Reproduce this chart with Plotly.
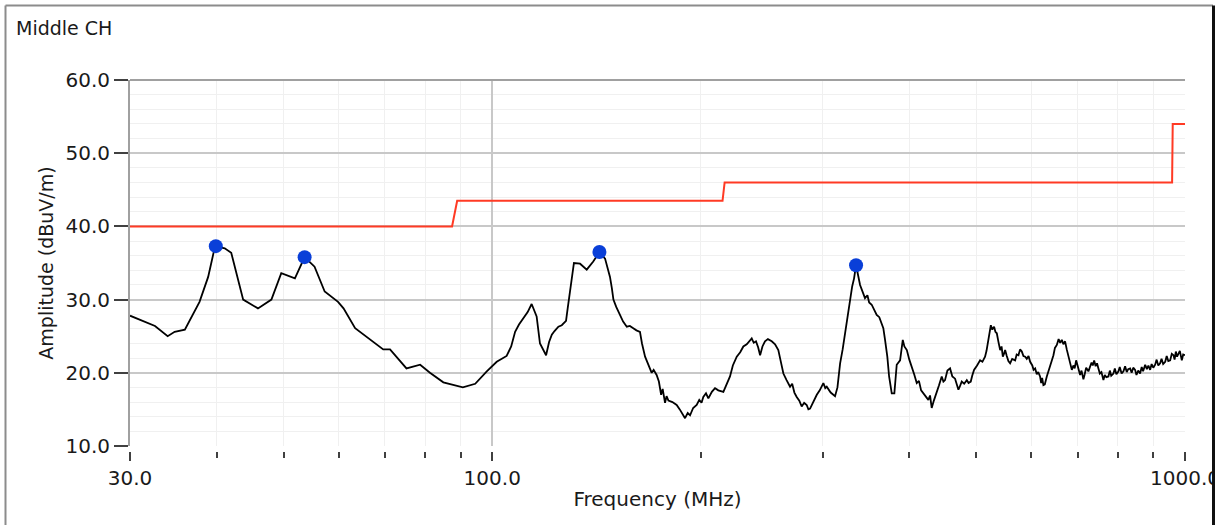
import plotly.graph_objects as go
import math

# ---- data ----
# measured trace, split into frequency segments (MHz, dBuV/m)
freq_a = [30.0, 32.6, 34.0, 34.8, 36.0, 37.8, 38.9, 39.8, 41.1, 42.0, 43.7, 45.9, 48.0, 49.6,
          51.9, 53.6, 55.4, 57.3, 59.9, 61.0, 63.4, 66.2, 69.6, 71.2, 75.2, 78.7, 81.3, 85.0,
          90.7, 94.5, 98.2]
amp_a = [27.8, 26.4, 25.0, 25.6, 25.9, 29.7, 33.1, 37.3, 37.0, 36.4, 30.0, 28.8, 30.0, 33.6,
         32.9, 35.8, 34.5, 31.1, 29.7, 28.8, 26.1, 24.8, 23.2, 23.2, 20.6, 21.1, 20.0, 18.7,
         18.0, 18.5, 20.2]

freq_b = [101.5, 103.0, 104.9, 106.5, 107.9, 109.3, 110.9, 112.5, 114.0, 115.9, 117.2, 118.3,
          119.6, 120.8, 121.9, 123.0, 124.6, 126.0, 127.8, 128.5, 129.5, 130.5, 131.2, 133.9,
          136.9, 139.9, 142.8, 145.5, 147.9, 148.8, 149.6, 151.0, 152.9, 154.5, 156.4, 158.0,
          159.8, 161.5]
amp_b = [21.5, 21.9, 22.3, 23.6, 25.6, 26.6, 27.4, 28.3, 29.4, 27.7, 24.0, 23.2,
         22.4, 24.2, 25.2, 25.7, 26.3, 26.5, 27.1, 28.8, 31.3, 33.5, 35.0, 34.9,
         34.1, 35.2, 36.5, 35.6, 33.1, 31.6, 30.0, 29.0, 27.9, 27.0, 26.3, 26.4,
         26.1, 25.8]

freq_c = [163.4, 164.5, 166.2, 168.0, 169.9, 171.0, 172.7, 174.0, 175.3, 176.2, 177.6, 178.5,
          179.6, 182.0, 184.6, 186.5, 188.0, 189.8, 191.5, 193.0, 195.0, 197.3, 199.0, 200.5,
          201.7, 203.5, 205.1, 207.5, 209.7, 212.0, 215.6, 218.0, 220.4]
amp_c = [25.6, 24.0, 22.2, 21.0, 20.0, 20.4, 19.7, 18.8, 17.0, 17.8, 15.9, 16.8,
         16.2, 16.0, 15.6, 15.0, 14.4, 13.8, 14.5, 14.2, 15.2, 15.6, 16.3, 15.9,
         16.7, 17.2, 16.5, 17.4, 17.9, 17.6, 17.4, 18.5, 19.5]

freq_d = [222.5, 225.4, 228.0, 230.4, 233.0, 236.9, 238.5, 240.3, 242.0, 243.6, 245.5, 247.6,
          250.0, 253.2, 256.0, 258.8, 261.0, 263.2, 266.0, 269.1, 271.0, 273.0, 275.1, 277.5,
          279.7, 282.0, 284.4, 286.0, 287.6, 290.5, 294.1, 297.0, 300.6, 302.5, 304.0, 308.0,
          312.5, 315.0, 317.8, 320.5, 323.1, 325.8, 328.5, 330.8, 332.9, 335.1]
amp_d = [21.0, 22.2, 22.8, 23.6, 23.9, 24.7, 24.1, 24.3, 23.5, 22.4, 23.6, 24.3,
         24.6, 24.3, 23.9, 23.1, 21.5, 19.9, 19.0, 18.1, 18.5, 17.3, 16.7, 16.2,
         15.4, 15.9, 15.6, 15.0, 15.1, 16.0, 17.0, 17.6, 18.6, 17.9, 18.1, 17.3,
         16.8, 18.0, 21.3, 23.2, 25.4, 28.0, 30.4, 31.8, 32.9, 34.7]

freq_e = [339.6, 342.0, 345.2, 348.0, 350.0, 353.0, 356.0, 358.9, 362.0, 364.5, 366.9, 369.0,
          371.8, 374.0, 377.3, 380.6, 383.6, 387.9, 391.4, 393.5, 396.7, 400.0, 403.3, 406.5,
          410.0, 413.0, 416.0, 419.1, 422.5, 426.1, 428.5, 430.9, 434.0, 438.1, 441.5, 445.5,
          448.0, 450.4, 454.0, 458.0, 461.5, 465.7, 468.0, 470.9, 473.0, 476.1]
amp_e = [32.0, 31.2, 30.2, 30.6, 29.6, 29.3, 28.6, 27.9, 27.6, 26.8, 26.1, 24.5,
         22.2, 19.5, 17.2, 17.2, 21.1, 21.7, 24.5, 23.6, 23.1, 21.8, 20.6, 19.8,
         18.6, 18.9, 17.6, 17.2, 16.8, 16.3, 16.9, 15.2, 16.2, 17.2, 18.3, 19.5,
         18.8, 19.0, 20.3, 20.6, 19.5, 19.2, 18.6, 17.7, 18.1, 18.8]

freq_f = [480.0, 484.2, 487.0, 490.6, 493.0, 496.0, 501.0, 506.1, 510.0, 514.5, 517.0, 520.3,
          522.0, 524.5, 527.0, 530.2, 532.5, 535.0, 538.0, 541.0, 543.5, 545.8, 548.0, 550.0,
          553.0, 556.0, 559.2, 563.0, 568.6, 571.5, 574.9, 578.0, 581.4, 584.5, 587.9, 591.0,
          594.5, 597.7, 602.0, 604.5, 607.7, 611.0, 614.0, 617.7, 620.0, 622.0, 624.6, 627.5,
          631.7, 635.0, 638.7, 642.0, 645.8, 649.0, 653.1, 657.0, 660.5, 664.1, 667.5, 671.3,
          675.0, 678.8, 682.0, 686.5, 690.0, 693.0, 696.4]
amp_f = [18.5, 19.0, 18.6, 18.8, 19.6, 20.4, 21.0, 21.7, 21.5, 22.2, 23.0, 24.5,
         25.8, 26.5, 25.9, 26.3, 25.6, 25.4, 24.2, 23.1, 23.6, 22.2, 22.6, 23.1,
         22.3, 21.6, 21.3, 21.9, 21.7, 22.5, 22.4, 23.2, 22.9, 22.3, 22.2, 21.9,
         22.3, 21.5, 21.0, 20.4, 20.6, 19.8, 20.1, 19.5, 18.6, 19.3, 18.3, 18.4,
         19.5, 20.3, 20.8, 21.6, 22.4, 23.4, 23.8, 24.6, 24.1, 24.5, 23.9, 24.3,
         23.2, 22.2, 21.3, 20.4, 21.0, 20.6, 21.7]

freq_g = [700.5, 705.7, 709.0, 713.4, 716.5, 720.0, 725.4, 729.0, 733.0, 736.0, 739.4, 743.0,
          746.5, 749.9, 753.5, 757.5, 762.5, 766.0, 770.0, 775.3, 779.0, 782.5, 788.3, 792.0,
          796.0, 801.6, 805.0, 810.0, 815.0, 819.5, 824.0, 828.0, 833.3, 837.5, 842.0, 847.2,
          851.0, 856.0, 861.4, 866.0, 870.0, 876.0, 881.0, 885.5, 890.6, 895.0, 900.0, 905.5,
          910.0, 915.0, 920.6, 925.0, 930.0, 936.3, 941.0, 946.0, 951.9, 957.0, 962.5, 966.0,
          970.0, 974.0, 978.4, 983.0, 989.5, 994.0, 1000.0]
amp_g = [20.8, 19.7, 20.3, 19.1, 19.8, 20.7, 20.2, 20.9, 21.4, 21.0, 21.7, 20.9,
         21.3, 20.6, 19.9, 20.1, 19.0, 19.7, 19.4, 19.5, 20.3, 19.6, 19.9, 20.6,
         19.8, 20.2, 20.8, 19.9, 20.2, 20.9, 20.1, 20.5, 20.6, 20.0, 20.7, 20.4,
         19.7, 20.3, 19.9, 20.8, 20.2, 21.1, 20.5, 21.0, 20.4, 21.2, 20.7, 21.1,
         21.8, 21.0, 21.3, 21.9, 21.2, 21.5, 22.3, 21.6, 21.7, 22.6, 22.4, 21.8,
         22.9, 22.2, 22.6, 23.0, 21.7, 22.5, 22.4]

freq_mhz = freq_a + freq_b + freq_c + freq_d + freq_e + freq_f + freq_g
amp_dbuv = amp_a + amp_b + amp_c + amp_d + amp_e + amp_f + amp_g
assert len(freq_mhz) == len(amp_dbuv)

# limit line (MHz, dBuV/m)
limit_freq = [30, 87.5, 89, 215, 216.5, 958, 960, 1000]
limit_level = [40, 40, 43.5, 43.5, 46, 46, 54, 54]

# detected peaks
peak_freq = [39.9, 53.6, 142.8, 335.1]
peak_amp = [37.3, 35.8, 36.5, 34.7]

y_ticks = [10, 20, 30, 40, 50, 60]
y_labels = ["10.0", "20.0", "30.0", "40.0", "50.0", "60.0"]
x_ticks = [30, 100, 1000]
x_labels = ["30.0", "100.0", "1000.0"]
x_minor = [40, 50, 60, 70, 80, 90, 200, 300, 400, 500, 600, 700, 800, 900]

# ---- layout geometry (pixels) ----
W, H = 1225, 525
ML, MR, MT, MB = 130, 40, 80, 74
PW, PH = W - ML - MR, H - MT - MB


def px(x):
    return (x - ML) / PW


def py(y):
    return (H - MB - y) / PH


FONT = "DejaVu Sans"
TXT = "#1a1a1a"

fig = go.Figure()
fig.add_trace(go.Scatter(x=limit_freq, y=limit_level, mode="lines",
                         line=dict(color="#ff3a24", width=2), showlegend=False))
fig.add_trace(go.Scatter(x=freq_mhz, y=amp_dbuv, mode="lines",
                         line=dict(color="#000000", width=1.8), showlegend=False))
fig.add_trace(go.Scatter(x=peak_freq, y=peak_amp, mode="markers",
                         marker=dict(color="#0a3fd8", size=14, line=dict(width=0)),
                         showlegend=False))

fig.update_layout(
    width=W, height=H,
    margin=dict(l=ML, r=MR, t=MT, b=MB, autoexpand=False),
    paper_bgcolor="white", plot_bgcolor="white",
    font=dict(family=FONT, size=20, color=TXT),
    title=dict(text="Middle CH", xref="container", yref="container",
               x=16 / W, xanchor="left", y=1 - 28 / H, yanchor="middle",
               font=dict(family=FONT, size=19, color=TXT)),
    showlegend=False,
    xaxis=dict(type="log", range=[math.log10(30), 3], anchor="free", position=0,
               tickmode="array", tickvals=x_ticks, ticktext=x_labels,
               ticks="outside", ticklen=9, tickwidth=2, tickcolor="#404040",
               showline=False, zeroline=False,
               showgrid=True, gridcolor="#c8c8c8", gridwidth=2,
               minor=dict(tickvals=x_minor, ticks="outside", ticklen=6, tickwidth=2,
                          tickcolor="#404040", showgrid=True, gridcolor="#f0f0f0",
                          gridwidth=1),
               tickfont=dict(family=FONT, size=20, color=TXT),
               title=dict(text="Frequency (MHz)", standoff=2,
                          font=dict(family=FONT, size=20, color=TXT))),
    yaxis=dict(range=[10, 60], domain=[5 / PH, 1], anchor="x",
               tickmode="array", tickvals=y_ticks, ticktext=y_labels,
               ticks="outside", ticklen=14, tickwidth=2, tickcolor="#404040",
               showline=True, linecolor="#a0a0a0", linewidth=2, zeroline=False,
               showgrid=True, gridcolor="#c8c8c8", gridwidth=2,
               minor=dict(tick0=10, dtick=2, ticks="", showgrid=True,
                          gridcolor="#f0f0f0", gridwidth=1),
               tickfont=dict(family=FONT, size=20, color=TXT),
               title=dict(text="Amplitude (dBuV/m)", standoff=7,
                          font=dict(family=FONT, size=19, color=TXT))),
    shapes=[
        # darker top frame line of the plot area
        dict(type="line", xref="x domain", yref="y domain", x0=0, x1=1, y0=1, y1=1,
             line=dict(color="#a0a0a0", width=2), layer="above"),
        # outer window frame
        dict(type="line", xref="paper", yref="paper", x0=px(5.5), x1=px(5.5),
             y0=py(5.5), y1=py(540), line=dict(color="#8c8c8c", width=2), layer="above"),
        dict(type="line", xref="paper", yref="paper", x0=px(5.5), x1=px(1213),
             y0=py(5.5), y1=py(5.5), line=dict(color="#8c8c8c", width=2), layer="above"),
        dict(type="rect", xref="paper", yref="paper", x0=px(1214), x1=px(1240),
             y0=py(540), y1=py(-10), fillcolor="white", line=dict(width=0), layer="above"),
        dict(type="line", xref="paper", yref="paper", x0=px(1213.5), x1=px(1213.5),
             y0=py(5.5), y1=py(540), line=dict(color="#101010", width=3), layer="above"),
    ],
)

fig.write_html("out.html", config={"displayModeBar": False, "staticPlot": True},
               post_script="document.body.style.margin='0px';")
